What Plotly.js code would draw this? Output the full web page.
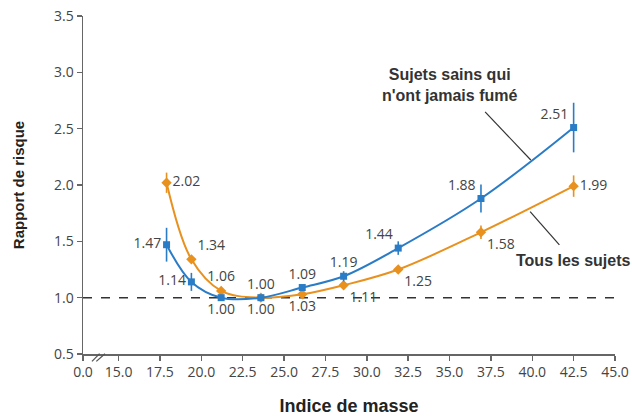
<!DOCTYPE html>
<html>
<head>
<meta charset="utf-8">
<script src="https://cdn.plot.ly/plotly-3.0.1.min.js"></script>
<style>html,body{margin:0;padding:0;background:#fff;}#chart{width:632px;height:416px;}</style>
</head>
<body>
<div id="chart"></div>
<script>
// BMI positions of the groups
const bmi = [17.9, 19.4, 21.2, 23.6, 26.1, 28.6, 31.9, 36.9, 42.5];
// Healthy never-smokers
const neverSmokedRR = [1.47, 1.14, 1.00, 1.00, 1.09, 1.19, 1.44, 1.88, 2.51];
const neverSmokedErr = [0.15, 0.08, 0.02, 0.02, 0.02, 0.045, 0.06, 0.125, 0.22];
// All subjects
const allSubjectsRR = [2.02, 1.34, 1.06, 1.00, 1.03, 1.11, 1.25, 1.58, 1.99];
const allSubjectsErr = [0.09, 0.03, 0.02, 0.01, 0.02, 0.02, 0.02, 0.06, 0.095];
// Axis ticks (broken axis: 0.0 then 15.0 ...)
const xTickVals = [12.85, 15, 17.5, 20, 22.5, 25, 27.5, 30, 32.5, 35, 37.5, 40, 42.5, 45];
const xTickText = ["0.0","15.0","17.5","20.0","22.5","25.0","27.5","30.0","32.5","35.0","37.5","40.0","42.5","45.0"];
const yTickVals = [0.5, 1.0, 1.5, 2.0, 2.5, 3.0, 3.5];
const yTickText = ["0.5","1.0","1.5","2.0","2.5","3.0","3.5"];

const blue = '#2a7cc7';
const orange = '#e8911e';
const labelFont = {family: 'Open Sans, Noto Sans, sans-serif', size: 14, color: '#444'};
const fmt = v => v.toFixed(2);

const traces = [
  {
    x: bmi, y: allSubjectsRR, type: 'scatter', mode: 'lines+markers+text',
    name: 'Tous les sujets',
    line: {color: orange, width: 2, shape: 'spline', smoothing: 1},
    marker: {color: orange, symbol: 'diamond', size: 8},
    error_y: {type: 'data', array: allSubjectsErr, visible: true, color: orange, thickness: 1.6, width: 0},
    text: allSubjectsRR.map(fmt),
    textposition: ['middle right','top right','top center','bottom center','bottom center','bottom right','bottom right','bottom right','middle right'],
    textfont: labelFont, cliponaxis: false, hoverinfo: 'skip'
  },
  {
    x: bmi, y: neverSmokedRR, type: 'scatter', mode: 'lines+markers+text',
    name: "Sujets sains qui n'ont jamais fumé",
    line: {color: blue, width: 2, shape: 'spline', smoothing: 1},
    marker: {color: blue, symbol: 'square', size: 7},
    error_y: {type: 'data', array: neverSmokedErr, visible: true, color: blue, thickness: 1.6, width: 0},
    text: neverSmokedRR.map(fmt),
    textposition: ['middle left','middle left','bottom center','top center','top center','top center','top left','top left','top left'],
    textfont: labelFont, cliponaxis: false, hoverinfo: 'skip'
  }
];

const axisCommon = {
  showgrid: false, zeroline: false, showline: true, linecolor: '#666', linewidth: 1.5,
  ticks: 'outside', ticklen: 5, tickwidth: 1.5, tickcolor: '#666',
  tickfont: {family: 'Open Sans, Noto Sans, sans-serif', size: 14, color: '#444'}
};

const titleFont = {family: 'Liberation Sans, Arial, sans-serif', color: '#222', weight: 'bold'};

const layout = {
  width: 632, height: 416,
  margin: {l: 83, r: 17, t: 16, b: 62},
  paper_bgcolor: '#fff', plot_bgcolor: '#fff',
  showlegend: false,
  xaxis: Object.assign({}, axisCommon, {
    range: [12.85, 45], tickmode: 'array', tickvals: xTickVals, ticktext: xTickText,
    title: {text: 'Indice de masse', font: Object.assign({size: 18}, titleFont), standoff: 21}
  }),
  yaxis: Object.assign({}, axisCommon, {
    range: [0.5, 3.5], tickmode: 'array', tickvals: yTickVals, ticktext: yTickText,
    title: {text: 'Rapport de risque', font: Object.assign({size: 15}, titleFont), standoff: 26}
  }),
  shapes: [
    {type: 'line', xref: 'paper', yref: 'y', x0: 0, x1: 1, y0: 1.0, y1: 1.0,
     line: {color: '#333', width: 1.5, dash: 'dash'}, layer: 'below'},
    // axis break marks
    {type: 'line', xref: 'paper', yref: 'paper', x0: 0.0169, y0: -0.0218, x1: 0.0312, y1: 0.001, line: {color: '#555', width: 1.3}},
    {type: 'line', xref: 'paper', yref: 'paper', x0: 0.0250, y0: -0.0218, x1: 0.0413, y1: 0.001, line: {color: '#555', width: 1.3}},
    // pointer lines
    {type: 'line', xref: 'x', yref: 'y', x0: 37.15, y0: 2.649, x1: 39.91, y1: 2.222, line: {color: '#333', width: 1.2}},
    {type: 'line', xref: 'x', yref: 'y', x0: 39.87, y0: 1.763, x1: 41.64, y1: 1.468, line: {color: '#333', width: 1.2}}
  ],
  annotations: [
    {xref: 'x', yref: 'y', x: 34.97, y: 2.886, text: "Sujets sains qui<br>n'ont jamais fumé", showarrow: false,
     font: {family: 'Liberation Sans, Arial, sans-serif', size: 16, color: '#333', weight: 'bold'}, align: 'center'},
    {xref: 'x', yref: 'y', x: 42.49, y: 1.327, text: 'Tous les sujets', showarrow: false,
     font: {family: 'Liberation Sans, Arial, sans-serif', size: 16, color: '#333', weight: 'bold'}, align: 'center'}
  ]
};

Plotly.newPlot('chart', traces, layout, {displayModeBar: false, staticPlot: true});
</script>
</body>
</html>
